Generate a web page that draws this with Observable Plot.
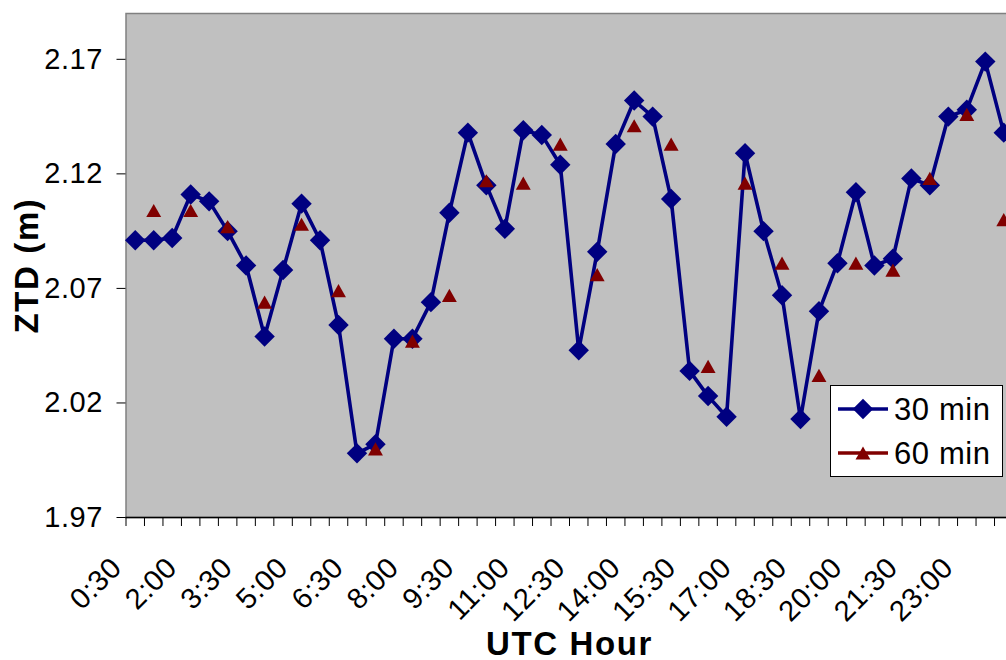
<!DOCTYPE html>
<html>
<head>
<meta charset="utf-8">
<script src="https://cdn.jsdelivr.net/npm/d3@7"></script>
<script src="https://cdn.jsdelivr.net/npm/@observablehq/plot@0.6"></script>
<style>
  html, body { margin: 0; padding: 0; background: white; overflow: hidden; }
  #wrap { position: relative; width: 1006px; height: 660px; }
  #wrap svg text { letter-spacing: 0.6px; }
  #wrap svg g[font-weight="bold"] text { letter-spacing: 1.6px; }
  #legend { position: absolute; left: 830px; top: 385px; width: 173px; height: 92px;
            box-sizing: border-box; border: 1px solid black; background: white; }
  #legend text { font-family: 'Liberation Sans', Arial, sans-serif; font-size: 31px; letter-spacing: 1px; }
</style>
</head>
<body>
<div id="wrap"></div>
<script>
// Categories (half-hour UTC slots)
const times = ["0:30","1:00","1:30","2:00","2:30","3:00","3:30","4:00","4:30","5:00","5:30","6:00",
  "6:30","7:00","7:30","8:00","8:30","9:00","9:30","10:00","10:30","11:00","11:30","12:00",
  "12:30","13:00","13:30","14:00","14:30","15:00","15:30","16:00","16:30","17:00","17:30","18:00",
  "18:30","19:00","19:30","20:00","20:30","21:00","21:30","22:00","22:30","23:00","23:30","24:00"];

// 30 min series (one per half-hour)
const ztd30 = [2.091, 2.091, 2.092, 2.111, 2.108, 2.095, 2.080, 2.049, 2.078, 2.107, 2.091, 2.054,
  1.998, 2.002, 2.048, 2.048, 2.064, 2.103, 2.138, 2.115, 2.096, 2.139, 2.137, 2.124,
  2.043, 2.086, 2.133, 2.152, 2.145, 2.109, 2.034, 2.023, 2.014, 2.129, 2.095, 2.067,
  2.013, 2.060, 2.081, 2.112, 2.080, 2.083, 2.118, 2.115, 2.145, 2.148, 2.169, 2.138];

// 60 min series (one per full hour)
const hours60 = ["1:00","2:00","3:00","4:00","5:00","6:00","7:00","8:00","9:00","10:00","11:00","12:00",
  "13:00","14:00","15:00","16:00","17:00","18:00","19:00","20:00","21:00","22:00","23:00","24:00"];
const ztd60 = [2.104, 2.104, 2.097, 2.064, 2.098, 2.069, 2.000, 2.047, 2.067, 2.117, 2.116, 2.133,
  2.076, 2.141, 2.133, 2.036, 2.116, 2.081, 2.032, 2.081, 2.078, 2.118, 2.146, 2.100];

// Tick labels shown on the x axis
const xTickLabels = ["0:30","2:00","3:30","5:00","6:30","8:00","9:30","11:00","12:30","14:00",
  "15:30","17:00","18:30","20:00","21:30","23:00"];
const yTicks = [1.97, 2.02, 2.07, 2.12, 2.17];
const seriesNames = ["30 min", "60 min"];
const seriesColors = ["#000080", "#800000"];

const rows30 = times.map((t, i) => ({i, t, v: ztd30[i]}));
const rows60 = hours60.map((t, k) => ({i: times.indexOf(t), t, v: ztd60[k]}));
const labelRows = xTickLabels.map(t => ({i: times.indexOf(t), t}));
const boundaries = d3.range(times.length + 1).map(k => k - 0.5);

// Triangle centred on its bounding box (like the spreadsheet marker)
const tri = {
  draw(ctx, size) {
    const s = Math.sqrt(size);
    const w = s * 0.78, h = s * 0.69;
    ctx.moveTo(0, -h);
    ctx.lineTo(w, h);
    ctx.lineTo(-w, h);
    ctx.closePath();
  }
};

const chart = Plot.plot({
  width: 1006,
  height: 660,
  marginLeft: 125.5,
  marginRight: -6.5,
  marginTop: 13,
  marginBottom: 143,
  x: {type: "linear", domain: [-0.5, times.length - 0.5]},
  y: {domain: [1.97, 2.19]},
  style: {fontFamily: "'Liberation Sans', Arial, sans-serif", fontSize: "28px", background: "white", color: "black", overflow: "visible"},
  marks: [
    Plot.frame({fill: "#c0c0c0", stroke: "#808080", strokeWidth: 1.5}),
    Plot.axisY({ticks: yTicks, tickFormat: d3.format(".2f"), tickSize: 9, tickPadding: 14, fontSize: 29, label: null}),
    Plot.axisX({ticks: boundaries, tickFormat: () => "", tickSize: 9, label: null}),
    Plot.ruleY([1.97], {stroke: "black", strokeWidth: 1.5}),
    Plot.line(rows30, {x: "i", y: "v", stroke: seriesColors[0], strokeWidth: 3.6}),
    Plot.dot(rows30, {x: "i", y: "v", symbol: "diamond2", r: 9.2, fill: seriesColors[0]}),
    Plot.dot(rows60, {x: "i", y: "v", symbol: tri, r: 5.4, fill: seriesColors[1]}),
    Plot.text(labelRows, {x: "i", text: "t", frameAnchor: "bottom", rotate: -45, textAnchor: "end",
      lineAnchor: "bottom", dx: -12, dy: 52, fontSize: 29}),
    Plot.text(["UTC Hour"], {text: d => d, frameAnchor: "bottom", textAnchor: "middle", dy: 137, lineAnchor: "bottom",
      fontWeight: "bold", fontSize: 33}),
    Plot.text(["ZTD (m)"], {text: d => d, frameAnchor: "left", textAnchor: "middle", rotate: -90, dx: -88, lineAnchor: "bottom",
      fontWeight: "bold", fontSize: 33})
  ]
});
const wrap = document.getElementById("wrap");
wrap.appendChild(chart);

// Legend (inside the plot area, bottom right)
const leg = document.createElement("div");
leg.id = "legend";
const lsvg = d3.create("svg").attr("width", 171).attr("height", 90);
seriesNames.forEach((name, k) => {
  const cy = 23 + k * 44;
  lsvg.append("line").attr("x1", 7).attr("x2", 57).attr("y1", cy).attr("y2", cy)
    .attr("stroke", seriesColors[k]).attr("stroke-width", 3.6);
  const sym = k === 0 ? d3.symbol(d3.symbolDiamond2, Math.PI * 9.2 * 9.2)() : d3.symbol(tri, Math.PI * 5.4 * 5.4)();
  lsvg.append("path").attr("d", sym)
    .attr("transform", `translate(32,${cy})`).attr("fill", seriesColors[k]);
  lsvg.append("text").attr("x", 63).attr("y", cy + 11).text(name);
});
leg.appendChild(lsvg.node());
wrap.appendChild(leg);
</script>
</body>
</html>
